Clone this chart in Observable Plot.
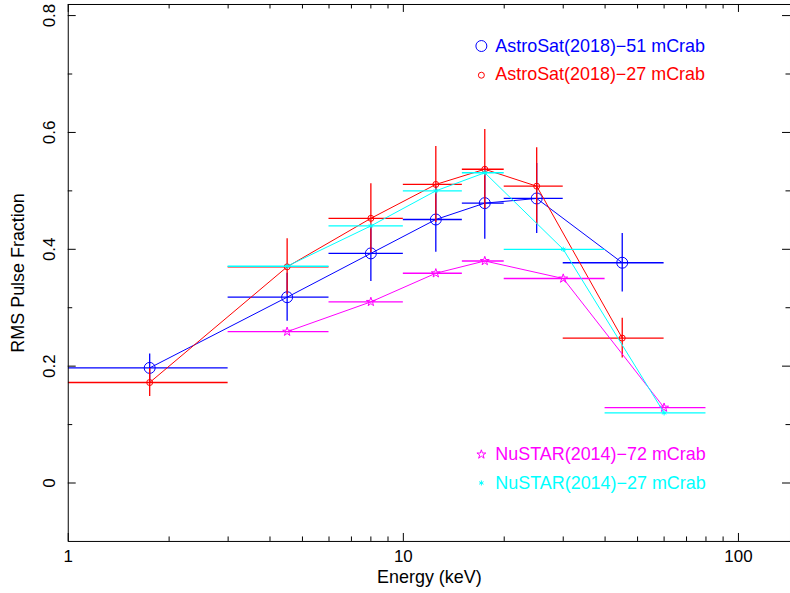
<!DOCTYPE html>
<html>
<head>
<meta charset="utf-8">
<script src="https://cdn.jsdelivr.net/npm/d3@7"></script>
<script src="https://cdn.jsdelivr.net/npm/@observablehq/plot@0.6"></script>
<style>
  html, body { margin: 0; padding: 0; background: #fff; overflow: hidden; }
  #chart { width: 790px; height: 593px; overflow: hidden; }
</style>
</head>
<body>
<div id="chart"></div>
<script>
// ---- Data ----
const astroEnergy = [1.75, 4.5, 8, 12.5, 17.5, 25, 45];
const astroLo     = [0.5, 3, 6, 10, 15, 20, 30];
const astroHi     = [3, 6, 10, 15, 20, 30, 60];
const astro51     = [0.197, 0.318, 0.393, 0.451, 0.479, 0.487, 0.377];
const astro51Err  = [0.024, 0.041, 0.048, 0.056, 0.062, 0.060, 0.050];
const astro27     = [0.172, 0.370, 0.453, 0.511, 0.537, 0.508, 0.248];
const astro27Err  = [0.024, 0.048, 0.059, 0.065, 0.068, 0.066, 0.034];

const nuEnergy = [4.5, 8, 12.5, 17.5, 30, 60];
const nuLo     = [3, 6, 10, 15, 20, 40];
const nuHi     = [6, 10, 15, 20, 40, 80];
const nu72     = [0.259, 0.310, 0.359, 0.380, 0.350, 0.129];
const nu27     = [0.371, 0.440, 0.500, 0.531, 0.400, 0.120];

const xMajorTicks = [1, 10, 100];
const xMinorTicks = [2, 3, 4, 5, 6, 7, 8, 9, 20, 30, 40, 50, 60, 70, 80, 90];
const yMajorTicks = [0, 0.2, 0.4, 0.6, 0.8];
const yMinorTicks = [0.1, 0.3, 0.5, 0.7];

const seriesNames = ["AstroSat(2018)\u221251 mCrab", "AstroSat(2018)\u221227 mCrab",
                     "NuSTAR(2014)\u221272 mCrab", "NuSTAR(2014)\u221227 mCrab"];
const seriesColors = ["#0000ff", "#ff0000", "#ff00ff", "#00ffff"];

// ---- Tables built from the arrays ----
const astroTable = (vals, errs) => astroEnergy.map((e, i) => ({e, lo: astroLo[i], hi: astroHi[i], v: vals[i], err: errs[i]}));
const nuTable = (vals) => nuEnergy.map((e, i) => ({e, lo: nuLo[i], hi: nuHi[i], v: vals[i]}));
const a51 = astroTable(astro51, astro51Err);
const a27 = astroTable(astro27, astro27Err);
const n72 = nuTable(nu72);
const n27 = nuTable(nu27);

// ---- Layout ----
const W = 793, H = 593;
const mL = 68, mT = 4, mR = 0, mB = 50;
const innerW = W - mL - mR, innerH = H - mT - mB;
const font = "'Liberation Sans', Arial, Helvetica, sans-serif";
const majLen = 8, minLen = 4.5;

function seriesMarks(data, color, symbol, r, withY) {
  const m = [
    Plot.line(data, {x: "e", y: "v", stroke: color, strokeWidth: 1}),
    Plot.ruleY(data, {y: "v", x1: "lo", x2: "hi", stroke: color, strokeWidth: 1.3, clip: true})
  ];
  if (withY) m.push(Plot.ruleX(data, {x: "e", y1: d => d.v - d.err, y2: d => d.v + d.err, stroke: color, strokeWidth: 1.3}));
  m.push(Plot.dot(data, {x: "e", y: "v", symbol, r, stroke: color, fill: "none", strokeWidth: 1}));
  return m;
}

// legend (positions relative to frame top-left)
const legendSpec = [
  {symbol: "circle",   r: 5.5, mdx: 414.7, mdy: 41.7,  tdy: 47.8},
  {symbol: "circle",   r: 3,   mdx: 414.7, mdy: 71.0,  tdy: 76.0},
  {symbol: "star",     r: 2.8, mdx: 414.7, mdy: 451.7, tdy: 457.7},
  {symbol: "asterisk", r: 2.4, mdx: 414.7, mdy: 480.3, tdy: 486.0}
];
const legendMarks = legendSpec.flatMap((s, i) => [
  Plot.dot([0], {x: null, y: null, frameAnchor: "top-left", dx: s.mdx, dy: s.mdy,
    symbol: s.symbol, r: s.r, stroke: seriesColors[i], fill: "none", strokeWidth: 1}),
  Plot.text([seriesNames[i]], {x: null, y: null, text: d => d, frameAnchor: "top-left",
    dx: s.mdx + 14, dy: s.tdy, textAnchor: "start", lineAnchor: "bottom",
    fill: seriesColors[i], fontSize: 18})
]);

const chart = Plot.plot({
  width: W, height: H,
  marginLeft: mL, marginTop: mT, marginRight: mR, marginBottom: mB,
  style: {fontFamily: font, background: "#fff", color: "#000", overflow: "visible"},
  x: {type: "log", domain: [1, 143], axis: null, clamp: true},
  y: {domain: [-0.1, 0.819], axis: null},
  marks: [
    // ticks (inward, all four sides)
    Plot.tickX(xMajorTicks, {x: d => d, insetTop: innerH - majLen, stroke: "#000", strokeWidth: 1}),
    Plot.tickX(xMinorTicks, {x: d => d, insetTop: innerH - minLen, stroke: "#000", strokeWidth: 1}),
    Plot.tickX(xMajorTicks, {x: d => d, insetBottom: innerH - majLen, stroke: "#000", strokeWidth: 1}),
    Plot.tickX(xMinorTicks, {x: d => d, insetBottom: innerH - minLen, stroke: "#000", strokeWidth: 1}),
    Plot.tickY(yMajorTicks, {y: d => d, insetRight: innerW - majLen, stroke: "#000", strokeWidth: 1}),
    Plot.tickY(yMinorTicks, {y: d => d, insetRight: innerW - minLen, stroke: "#000", strokeWidth: 1}),
    Plot.tickY(yMajorTicks, {y: d => d, insetLeft: innerW - majLen, stroke: "#000", strokeWidth: 1}),
    Plot.tickY(yMinorTicks, {y: d => d, insetLeft: innerW - minLen, stroke: "#000", strokeWidth: 1}),
    // tick labels
    Plot.text(xMajorTicks, {x: d => d, text: d => String(d), frameAnchor: "bottom", dy: 20.5,
      lineAnchor: "bottom", textAnchor: "middle", fontSize: 17, fill: "#000"}),
    Plot.text(yMajorTicks, {y: d => d, text: d => d === 0 ? "0" : d.toFixed(1), frameAnchor: "left",
      dx: -13, rotate: -90, textAnchor: "middle", lineAnchor: "bottom", fontSize: 17, fill: "#000"}),
    // axis titles
    Plot.text(["Energy (keV)"], {x: null, y: null, text: d => d, frameAnchor: "bottom", dy: 42,
      lineAnchor: "bottom", textAnchor: "middle", fontSize: 18, fill: "#000"}),
    Plot.text(["RMS Pulse Fraction"], {x: null, y: null, text: d => d, frameAnchor: "left", dx: -44,
      rotate: -90, lineAnchor: "bottom", textAnchor: "middle", fontSize: 18, fill: "#000"}),
    // data
    ...seriesMarks(a51, seriesColors[0], "circle", 5.5, true),
    ...seriesMarks(a27, seriesColors[1], "circle", 3, true),
    ...seriesMarks(n72, seriesColors[2], "star", 2.8, false),
    ...seriesMarks(n27, seriesColors[3], "asterisk", 2.4, false),
    ...legendMarks,
    Plot.frame({stroke: "#000", strokeWidth: 1})
  ]
});
document.getElementById("chart").appendChild(chart);
</script>
</body>
</html>
